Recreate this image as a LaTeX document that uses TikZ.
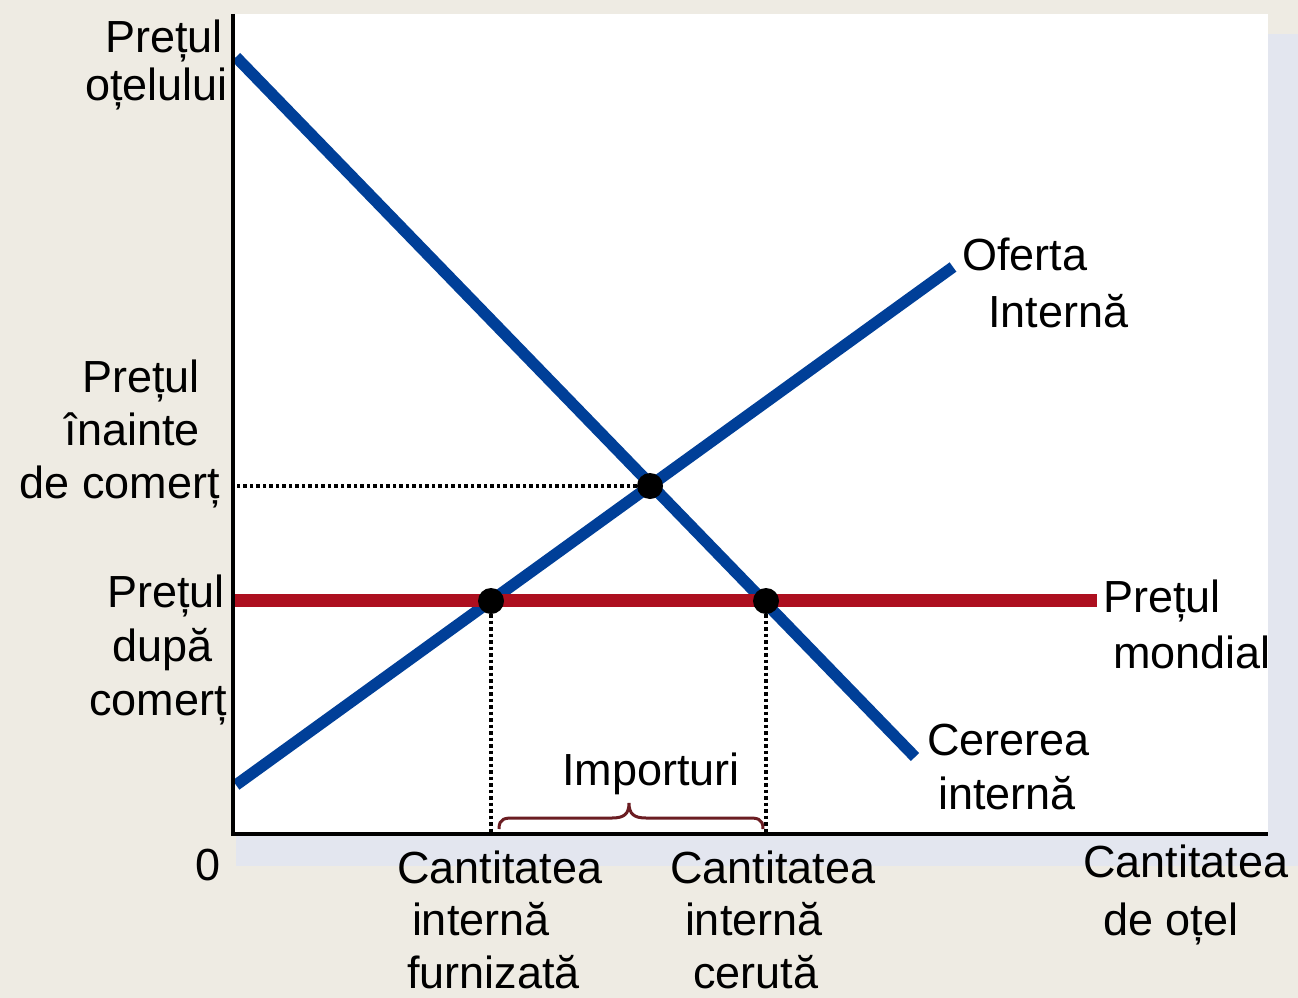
\documentclass[tikz,border=0pt]{standalone}
\usepackage{fontspec}
\setmainfont{Liberation Sans}
\definecolor{bgc}{HTML}{EEEBE3}
\definecolor{shadowc}{HTML}{E3E6EF}
\definecolor{curveblue}{HTML}{003F98}
\definecolor{worldred}{HTML}{AD0F1F}
\definecolor{bracec}{HTML}{6B1D22}
\begin{document}
\begin{tikzpicture}[x=1pt,y=-1pt,
  lbl/.style={inner sep=0pt, outer sep=0pt, font=\fontsize{45}{54}\selectfont},
  curveline/.style={line width=11.5pt, draw=curveblue},
  worldline/.style={line width=12.5pt, draw=worldred},
  axisline/.style={line width=3.5pt, draw=black},
  dotline/.style={line width=4pt, draw=black, dash pattern=on 3.5pt off 3pt},
  eqdot/.style={circle, fill=black, inner sep=0pt, minimum size=26pt},
  bracestyle/.style={line width=3pt, draw=bracec}]
% canvas
\useasboundingbox (0,0) rectangle (1298,998);
\fill[bgc] (0,0) rectangle (1298,998);
\fill[shadowc] (236,34) rectangle (1298,866);
\fill[white] (233,14) rectangle (1268,834);
% coordinates
\coordinate (O) at (233,834);
\coordinate (ytop) at (233,14);
\coordinate (xend) at (1268,834);
\coordinate (dA) at (236,57);
\coordinate (dB) at (915,757);
\coordinate (sA) at (236,785);
\coordinate (sB) at (953,267);
\coordinate (wA) at (233,600.5);
\coordinate (wB) at (1097,600.5);
\coordinate (pE) at (235,486);
\coordinate (qS) at (491,834);
\coordinate (qD) at (766,834);
% curves
\draw[curveline] (dA) -- (dB);
\draw[curveline] (sA) -- (sB);
\draw[worldline] (wA) -- (wB);
% equilibrium points
\node[eqdot] (E) at (650,486) {};
\node[eqdot] (S1) at (491,601) {};
\node[eqdot] (D1) at (766,601) {};
% dotted guides
\draw[dotline] (E) -- (pE);
\draw[dotline] (S1) -- (qS);
\draw[dotline] (D1) -- (qD);
% axes
\draw[axisline] (ytop) -- (O) -- (xend);
% brace
\draw[bracestyle] (499,829) .. controls (499,818) and (505,818) .. (515,818) -- (612,818)
  .. controls (624,818) and (629,814) .. (629,803)
  .. controls (629,814) and (634,818) .. (646,818) -- (747,818)
  .. controls (757,818) and (763,818) .. (763,829);
% labels (anchor base = baseline of the last line)
\node[lbl, align=right, anchor=base east, font=\fontsize{45}{48}\selectfont] (ylabel) at (228,100) {Prețul\kern5pt\\oțelului};
\node[lbl, align=right, anchor=base east, font=\fontsize{45}{53}\selectfont] (pbefore) at (220,498) {Prețul\kern20pt\\înainte\kern20pt\\de comerț};
\node[lbl, align=right, anchor=base east, font=\fontsize{45}{54}\selectfont] (pafter) at (227,715) {Prețul\kern2pt\\după\kern14pt\\comerț};
\node[lbl, anchor=base west] (zero) at (195,880) {0};
\node[lbl, align=left, anchor=base west, font=\fontsize{45}{52.5}\selectfont] (qsup) at (397,988) {Cantitatea\\\kern15pt internă\\\kern10pt furnizată};
\node[lbl, align=left, anchor=base west, font=\fontsize{45}{52.5}\selectfont] (qdem) at (670,988) {Cantitatea\\\kern15pt internă\\\kern23pt cerută};
\node[lbl, align=left, anchor=base west, font=\fontsize{45}{58}\selectfont] (xlabel) at (1083,935) {Cantitatea\\\kern20pt de oțel};
\node[lbl, align=left, anchor=base west, font=\fontsize{45}{57}\selectfont] (supply) at (962,327) {Oferta\\\kern26pt Internă};
\node[lbl, align=left, anchor=base west, font=\fontsize{45}{56}\selectfont] (world) at (1103,668) {Prețul\\\kern10pt mondial};
\node[lbl, align=left, anchor=base west, font=\fontsize{45}{54}\selectfont] (demand) at (927,809) {Cererea\\\kern11pt internă};
\node[lbl, anchor=base west] (imports) at (562,785) {Importuri};
\end{tikzpicture}
\end{document}
